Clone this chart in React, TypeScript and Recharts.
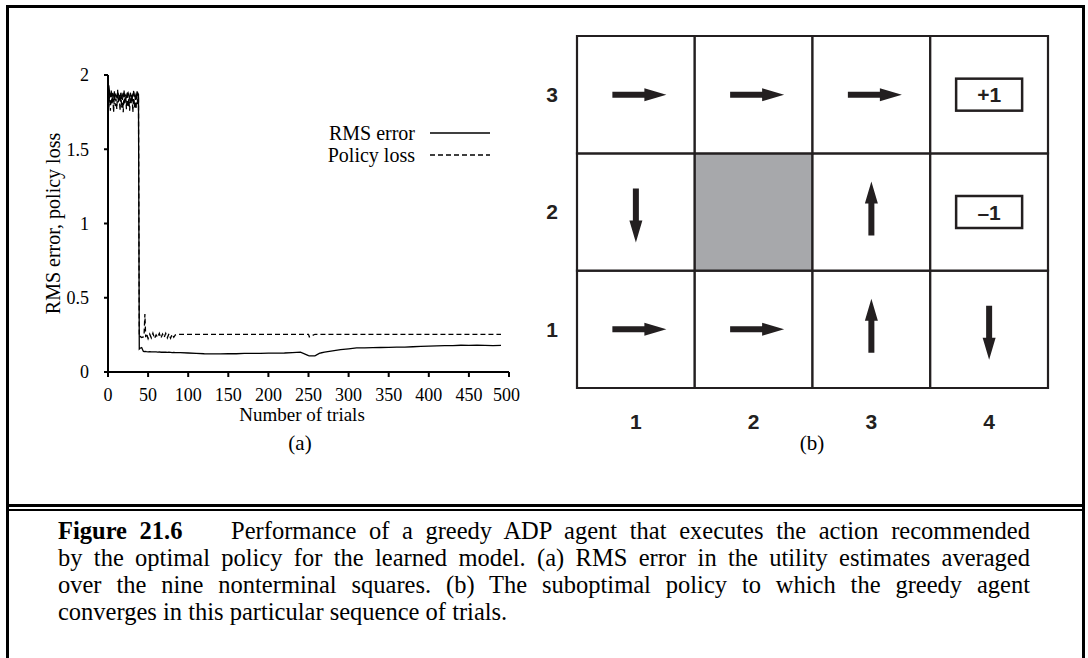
import React from 'react';
import { LineChart, Line, XAxis, YAxis, Legend, ScatterChart, Scatter, ReferenceArea } from 'recharts';

const SERIF = '"Liberation Serif", "Times New Roman", serif';
const SANS = '"Liberation Sans", Arial, sans-serif';
const INK = '#000';
const GRID_INK = '#231f20';

// (a) learning curve of the greedy agent
const trials = [
  0, 1, 2, 3, 4, 5, 6, 7, 8, 9, 10, 11, 12, 13, 14, 15, 16, 17, 18, 19,
  20, 21, 22, 23, 24, 25, 26, 27, 28, 29, 30, 31, 32, 33, 34, 35, 36, 37, 38,
  39, 40, 42, 44, 45, 46, 47, 48, 50, 52, 54, 56, 58, 60, 62, 64, 66, 68, 70,
  72, 74, 76, 78, 80, 82, 84, 90, 100, 110, 120, 130, 140, 150, 160, 170, 180,
  190, 200, 210, 220, 230, 240, 250, 251, 258, 264, 265, 270, 280, 290, 300,
  310, 320, 330, 340, 350, 360, 370, 380, 390, 400, 410, 420, 430, 440, 450,
  460, 470, 480, 490, 500,
];

const rmsError = [
  1.6, 1.93, 1.88, 1.86, 1.87, 1.85, 1.88, 1.86, 1.84, 1.87, 1.86, 1.85, 1.88, 1.87, 1.85, 1.86, 1.87, 1.84, 1.86, 1.88,
  1.85, 1.87, 1.86, 1.85, 1.87, 1.88, 1.86, 1.84, 1.87, 1.86, 1.85, 1.87, 1.88, 1.86, 1.85, 1.87, 1.86, 1.88, 1.87,
  0.155, 0.16, 0.165, 0.14, 0.138, 0.137, 0.138, 0.137, 0.136, 0.137, 0.135, 0.136, 0.135, 0.136, 0.134, 0.135, 0.133, 0.134,
  0.133, 0.134, 0.132, 0.133, 0.132, 0.131, 0.132, 0.13, 0.13, 0.128, 0.126, 0.123, 0.122, 0.122, 0.124, 0.123, 0.125,
  0.126, 0.126, 0.127, 0.127, 0.128, 0.131, 0.134, 0.11, 0.108, 0.109, 0.127, 0.128, 0.134, 0.142, 0.15,
  0.156, 0.162, 0.163, 0.164, 0.165, 0.166, 0.168, 0.168, 0.17, 0.173, 0.174, 0.176, 0.177, 0.178, 0.18,
  0.179, 0.181, 0.179, 0.177, 0.179,
];

const policyLoss = [
  1.9, 1.78, 1.88, 1.76, 1.9, 1.8, 1.86, 1.75, 1.89, 1.79, 1.84, 1.77, 1.9, 1.81, 1.87, 1.76, 1.88, 1.78, 1.85, 1.75,
  1.9, 1.8, 1.86, 1.77, 1.89, 1.79, 1.84, 1.76, 1.88, 1.81, 1.87, 1.75, 1.9, 1.78, 1.85, 1.77, 1.89, 1.8, 1.86,
  0.235, 0.24, 0.232, 0.236, 0.25, 0.39, 0.235, 0.26, 0.225, 0.255, 0.23, 0.262, 0.226, 0.25, 0.233, 0.26, 0.228, 0.255,
  0.232, 0.26, 0.23, 0.257, 0.227, 0.254, 0.234, 0.25, 0.254, 0.254, 0.254, 0.254, 0.254, 0.254, 0.254, 0.254, 0.254,
  0.254, 0.254, 0.254, 0.254, 0.254, 0.254, 0.254, 0.254, 0.236, 0.254, 0.254, 0.254, 0.254, 0.254, 0.254,
  0.254, 0.254, 0.254, 0.254, 0.254, 0.254, 0.254, 0.254, 0.254, 0.254, 0.254, 0.254, 0.254, 0.254, 0.254,
  0.254, 0.254, 0.254, 0.254, 0.254,
];

const trialTicks = [0, 50, 100, 150, 200, 250, 300, 350, 400, 450, 500];
const lossTicks = [0, 0.5, 1, 1.5, 2];

const series = [
  { key: 'rms', name: 'RMS error', dash: undefined as string | undefined },
  { key: 'policy', name: 'Policy loss', dash: '5 3' },
];

// (b) the 4x3 world and the policy the agent settles on
const columns = [1, 2, 3, 4];
const rows = [1, 2, 3];
const wall = { col: 2, row: 2 };
const policy = [
  { col: 1, row: 3, dir: 'right' },
  { col: 2, row: 3, dir: 'right' },
  { col: 3, row: 3, dir: 'right' },
  { col: 1, row: 2, dir: 'down' },
  { col: 3, row: 2, dir: 'up' },
  { col: 1, row: 1, dir: 'right' },
  { col: 2, row: 1, dir: 'right' },
  { col: 3, row: 1, dir: 'up' },
  { col: 4, row: 1, dir: 'down' },
];
const terminals = [
  { col: 4, row: 3, label: '+1' },
  { col: 4, row: 2, label: '–1' },
];

const curveData = trials.map((t, i) => ({ trial: t, rms: rmsError[i], policy: policyLoss[i] }));

const cells = rows.flatMap((r) => columns.map((c) => ({ col: c, row: r })));

const LegendBox = () => (
  <div style={{ fontFamily: SERIF, fontSize: 20, color: INK, lineHeight: '22px' }}>
    {series.map((s) => (
      <div key={s.key} style={{ display: 'flex', alignItems: 'center' }}>
        <span style={{ width: 120, textAlign: 'right' }}>{s.name}</span>
        <svg width={78} height={10}>
          <line x1={15} x2={75} y1={5} y2={5} stroke={INK} strokeWidth={1.3} strokeDasharray={s.dash} />
        </svg>
      </div>
    ))}
  </div>
);

const angles: Record<string, number> = { right: 0, down: 90, left: 180, up: -90 };

const Arrow = (props: any) => {
  const { cx, cy, payload } = props;
  const len = 54;
  const shaft = 3;
  const head = 22;
  const half = 6.5;
  const x0 = -len / 2 + 3.5;
  const x1 = len / 2 + 3.5;
  const d = `M${x0},${-shaft} L${x1 - head},${-shaft} L${x1 - head},${-half} L${x1},0 L${x1 - head},${half} L${x1 - head},${shaft} L${x0},${shaft} Z`;
  return <path d={d} transform={`translate(${cx},${cy}) rotate(${angles[payload.dir]})`} fill={GRID_INK} />;
};

const Terminal = (props: any) => {
  const { cx, cy, payload } = props;
  return (
    <g>
      <rect x={cx - 33} y={cy - 16} width={66} height={32} fill="#fff" stroke={GRID_INK} strokeWidth={2.5} />
      <text x={cx} y={cy} dy="0.36em" textAnchor="middle" fontFamily={SANS} fontWeight="bold" fontSize={21} fill={GRID_INK}>
        {payload.label}
      </text>
    </g>
  );
};

const tickA = { fill: INK, fontSize: 18, fontFamily: SERIF };
const tickB = { fill: GRID_INK, fontSize: 21, fontFamily: SANS, fontWeight: 'bold' };

const App = () => {
  return (
    <div style={{ position: 'absolute', left: 0, top: 0, width: 1088, height: 658, overflow: 'hidden', background: '#fff' }}>
      {/* frame */}
      <div style={{ position: 'absolute', left: 6, top: 5, width: 1079, height: 700, border: '3px solid #000', boxSizing: 'border-box' }} />
      <div style={{ position: 'absolute', left: 6, top: 504, width: 1079, height: 3, background: '#000' }} />
      <div style={{ position: 'absolute', left: 6, top: 509, width: 1079, height: 2, background: '#000' }} />

      {/* (a) */}
      <div style={{ position: 'absolute', left: 20, top: 60 }}>
        <LineChart width={500} height={360} data={curveData} margin={{ top: 15, right: 11, bottom: 0, left: 0 }}>
          <XAxis
            dataKey="trial"
            type="number"
            domain={[0, 500]}
            ticks={trialTicks}
            height={48}
            tick={tickA}
            tickSize={5}
            tickMargin={11}
            axisLine={{ stroke: INK, strokeWidth: 2 }}
            tickLine={{ stroke: INK, strokeWidth: 2 }}
          />
          <YAxis
            type="number"
            domain={[0, 2]}
            ticks={lossTicks}
            width={88}
            tick={tickA}
            tickSize={4}
            tickMargin={15}
            axisLine={{ stroke: INK, strokeWidth: 2 }}
            tickLine={{ stroke: INK, strokeWidth: 2 }}
            label={{
              value: 'RMS error, policy loss',
              angle: -90,
              position: 'insideLeft',
              offset: 33,
              fill: INK,
              fontSize: 20,
              fontFamily: SERIF,
              style: { textAnchor: 'middle' },
            }}
          />
          <Legend
            layout="vertical"
            verticalAlign="middle"
            align="center"
            content={LegendBox}
            wrapperStyle={{ left: 275, top: 62, width: 'auto' }}
          />
          <Line dataKey="rms" name="RMS error" type="linear" stroke={INK} strokeWidth={1.3} dot={false} isAnimationActive={false} />
          <Line
            dataKey="policy"
            name="Policy loss"
            type="linear"
            stroke={INK}
            strokeWidth={1.3}
            strokeDasharray="5 3"
            dot={false}
            isAnimationActive={false}
          />
        </LineChart>
      </div>
      <div style={{ position: 'absolute', left: 202, width: 200, top: 404, textAlign: 'center', fontFamily: SERIF, fontSize: 19, lineHeight: '22px' }}>
        Number of trials
      </div>
      <div style={{ position: 'absolute', left: 250, width: 100, top: 431, textAlign: 'center', fontFamily: SERIF, fontSize: 21, lineHeight: '24px' }}>
        (a)
      </div>

      {/* (b) */}
      <div style={{ position: 'absolute', left: 520, top: 20 }}>
        <ScatterChart width={540} height={440} margin={{ top: 16, right: 12, bottom: 32, left: 0 }}>
          <XAxis
            dataKey="col"
            type="number"
            domain={[0.5, 4.5]}
            ticks={columns}
            height={40}
            axisLine={false}
            tickLine={false}
            tickSize={0}
            tickMargin={26}
            tick={tickB}
          />
          <YAxis
            dataKey="row"
            type="number"
            domain={[0.5, 3.5]}
            ticks={rows}
            width={57}
            axisLine={false}
            tickLine={false}
            tickSize={0}
            tickMargin={19}
            tick={tickB}
          />
          {cells.map((c) => (
            <ReferenceArea
              key={`${c.col}-${c.row}`}
              x1={c.col - 0.5}
              x2={c.col + 0.5}
              y1={c.row - 0.5}
              y2={c.row + 0.5}
              fill={c.col === wall.col && c.row === wall.row ? '#a7a8ab' : '#fff'}
              fillOpacity={1}
              stroke={GRID_INK}
              strokeWidth={2.2}
            />
          ))}
          <Scatter data={policy} shape={(p: any) => <Arrow {...p} />} isAnimationActive={false} />
          <Scatter data={terminals} shape={(p: any) => <Terminal {...p} />} isAnimationActive={false} />
        </ScatterChart>
      </div>
      <div style={{ position: 'absolute', left: 762, width: 100, top: 431, textAlign: 'center', fontFamily: SERIF, fontSize: 21, lineHeight: '24px' }}>
        (b)
      </div>

      {/* caption */}
      <div style={{ position: 'absolute', left: 58, top: 517, width: 972, fontFamily: SERIF, fontSize: 24.5, lineHeight: '27px', color: INK }}>
        <div style={{ textAlign: 'justify', textAlignLast: 'justify', whiteSpace: 'nowrap' }}>
          <b>Figure 21.6</b>
          <span style={{ display: 'inline-block', width: 36 }} /> Performance of a greedy ADP agent that executes the action recommended
        </div>
        <div style={{ textAlign: 'justify', textAlignLast: 'justify', whiteSpace: 'nowrap' }}>
          by the optimal policy for the learned model. (a) RMS error in the utility estimates averaged
        </div>
        <div style={{ textAlign: 'justify', textAlignLast: 'justify', whiteSpace: 'nowrap' }}>
          over the nine nonterminal squares. (b) The suboptimal policy to which the greedy agent
        </div>
        <div style={{ whiteSpace: 'nowrap' }}>converges in this particular sequence of trials.</div>
      </div>
    </div>
  );
};

export default App;
